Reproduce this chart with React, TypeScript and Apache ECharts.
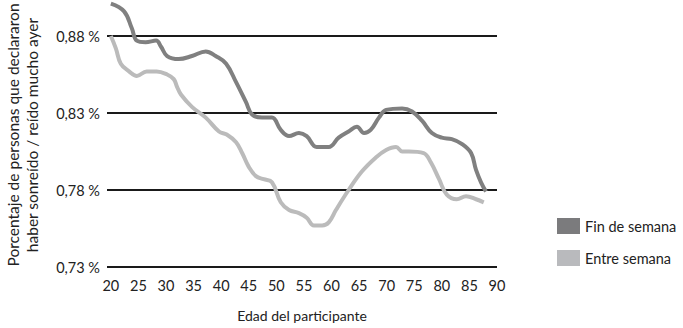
import React, { useEffect, useRef } from "react";
import * as echarts from "echarts";

const xTicks = [20, 25, 30, 35, 40, 45, 50, 55, 60, 65, 70, 75, 80, 85, 90];
const yTicks = [0.73, 0.78, 0.83, 0.88];

const finAges = [20, 22.4, 23.8, 24.7, 26.3, 28.2, 29.1, 30.2, 32.3, 34.7, 37.2, 39.0, 40.9, 42.7, 44.5, 45.6, 47.4, 49.2, 50.8, 52.3, 54.1, 55.5, 57.3, 59.5, 61.3, 63.1, 64.6, 65.9, 67.1, 68.6, 69.9, 72.8, 74.6, 76.4, 78.2, 80.0, 81.8, 83.6, 85.3, 86.2, 87.1, 88.0];
const finValues = [0.901, 0.896, 0.885, 0.877, 0.876, 0.877, 0.873, 0.867, 0.865, 0.867, 0.870, 0.867, 0.862, 0.850, 0.837, 0.829, 0.827, 0.827, 0.819, 0.815, 0.817, 0.815, 0.808, 0.808, 0.814, 0.818, 0.821, 0.817, 0.819, 0.827, 0.832, 0.833, 0.831, 0.825, 0.817, 0.814, 0.813, 0.810, 0.804, 0.793, 0.785, 0.779];

const entreAges = [20, 20.9, 21.8, 23.3, 24.7, 26.5, 28.3, 30.2, 31.4, 32.0, 32.7, 34.7, 37.2, 39.6, 41.0, 42.7, 43.8, 45.0, 46.3, 47.7, 49.2, 50.8, 52.3, 54.1, 55.5, 56.8, 58.3, 59.5, 60.8, 63.1, 65.5, 68.0, 69.9, 71.7, 72.8, 74.0, 76.7, 78.0, 79.5, 80.9, 82.7, 84.4, 86.2, 87.6];
const entreValues = [0.880, 0.872, 0.862, 0.857, 0.854, 0.857, 0.857, 0.855, 0.852, 0.847, 0.842, 0.834, 0.827, 0.818, 0.816, 0.811, 0.804, 0.795, 0.789, 0.787, 0.785, 0.772, 0.767, 0.765, 0.762, 0.757, 0.757, 0.759, 0.767, 0.780, 0.792, 0.801, 0.806, 0.808, 0.805, 0.805, 0.804, 0.798, 0.787, 0.777, 0.774, 0.776, 0.774, 0.772];

const seriesNames = ["Fin de semana", "Entre semana"];
const FONT = "Lato";

export default function App() {
  const ref = useRef<HTMLDivElement>(null);
  useEffect(() => {
    const chart = echarts.init(ref.current!, null, { renderer: "svg" });
    chart.setOption({
      animation: false,
      textStyle: { fontFamily: FONT },
      grid: { left: 107, right: 186, top: 36, bottom: 61 },
      xAxis: {
        type: "value",
        min: 19.3,
        max: 90,
        axisLine: { show: false },
        axisTick: { show: false },
        splitLine: { show: false },
        axisLabel: {
          customValues: xTicks,
          color: "#222",
          fontSize: 14.5,
          fontFamily: FONT,
          margin: 11,
        },
        name: "Edad del participante",
        nameLocation: "middle",
        nameGap: 41,
        nameTextStyle: { color: "#222", fontSize: 14, fontFamily: FONT },
      },
      yAxis: {
        type: "value",
        min: 0.73,
        max: 0.88,
        interval: 0.05,
        axisLine: { show: false },
        axisTick: { show: false },
        splitLine: { show: true, lineStyle: { color: "#1a1a1a", width: 2 } },
        axisLabel: {
          customValues: yTicks,
          color: "#222",
          fontSize: 14.5,
          fontFamily: FONT,
          margin: 7,
          formatter: (v: number) => v.toFixed(2).replace(".", ",") + " %",
        },
      },
      legend: {
        orient: "vertical",
        left: 557,
        top: 218,
        padding: 0,
        itemWidth: 23,
        itemHeight: 16,
        itemGap: 16,
        icon: "rect",
        textStyle: { color: "#222", fontSize: 14.5, fontFamily: FONT },
        data: seriesNames,
      },
      graphic: [
        {
          type: "text",
          x: 22,
          y: 135,
          rotation: Math.PI / 2,
          style: {
            text: "Porcentaje de personas que declararon\nhaber sonreído / reído mucho ayer",
            fontFamily: FONT,
            fontSize: 15.5,
            lineHeight: 19,
            fill: "#222",
            textAlign: "center",
            textVerticalAlign: "middle",
          },
        },
      ],
      series: [
        {
          name: seriesNames[0],
          type: "line",
          smooth: 0.4,
          showSymbol: false,
          clip: false,
          color: "#7b7b7d",
          lineStyle: { width: 4, color: "#808080" },
          data: finAges.map((a, i) => [a, finValues[i]]),
        },
        {
          name: seriesNames[1],
          type: "line",
          smooth: 0.4,
          showSymbol: false,
          clip: false,
          color: "#b9babd",
          lineStyle: { width: 4, color: "#bbbbbb" },
          data: entreAges.map((a, i) => [a, entreValues[i]]),
        },
      ],
    });
    return () => chart.dispose();
  }, []);
  return <div ref={ref} style={{ width: 683, height: 328, position: "absolute", left: 0, top: 0 }} />;
}
